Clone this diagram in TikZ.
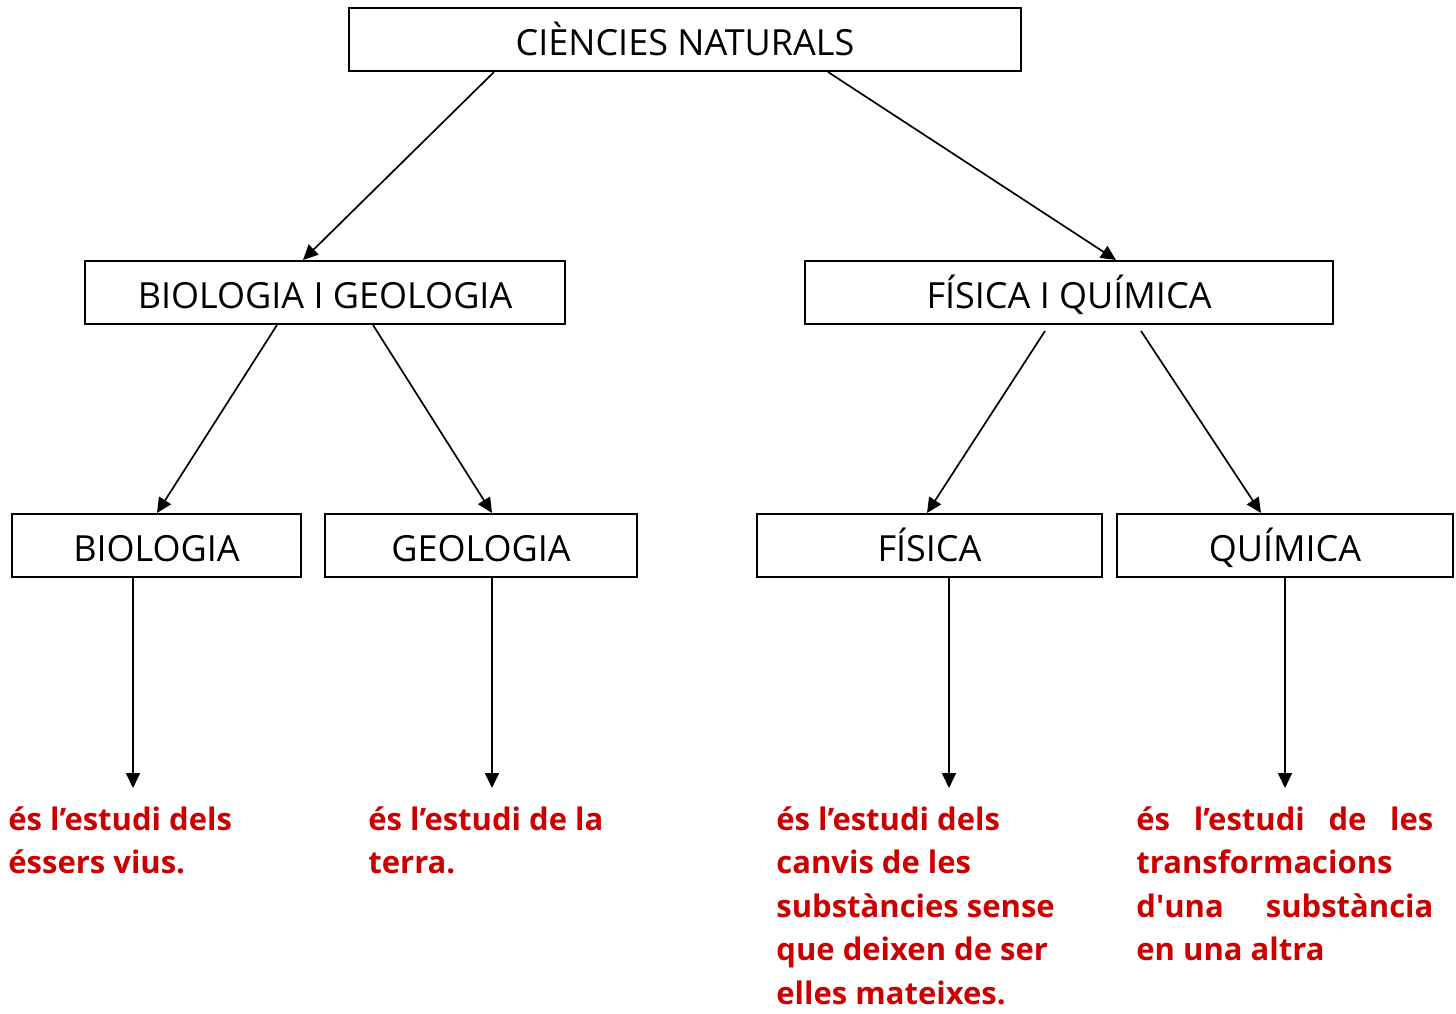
\documentclass[tikz,border=0pt]{standalone}
\usepackage{fontspec}
\setmainfont{Open Sans}
\usetikzlibrary{arrows.meta,calc}
\definecolor{redtxt}{RGB}{204,0,0}
\begin{document}
\begin{tikzpicture}[x=0.5pt,y=-0.5pt,
  box/.style={draw=black,line width=1pt,minimum height=31.5pt,inner sep=0pt,
    text height=15.5pt,text depth=0pt,
    font=\fontsize{18}{21}\selectfont},
  conn/.style={line width=0.85pt,-{Triangle[length=7.5pt,width=7pt]}},
  desc/.style={anchor=north west,inner sep=0pt,text=redtxt,align=left,
    font=\fontsize{15.5}{21.8}\selectfont\bfseries}]
\useasboundingbox (0,0) rectangle (1456,1013);
\node[box,minimum width=336pt] (cn) at (685,39.5) {CIÈNCIES NATURALS};
\node[box,minimum width=240pt] (bg) at (325,292.5) {BIOLOGIA I GEOLOGIA};
\node[box,minimum width=264pt] (fq) at (1069,292.5) {FÍSICA I QUÍMICA};
\node[box,minimum width=144.5pt] (bio) at (156.5,545.5) {BIOLOGIA};
\node[box,minimum width=156pt] (geo) at (481,545.5) {GEOLOGIA};
\node[box,minimum width=172.5pt] (fis) at (929.5,545.5) {FÍSICA};
\node[box,minimum width=168pt] (qui) at (1285,545.5) {QUÍMICA};
\coordinate (e1) at (133,788);
\coordinate (e2) at (492,788);
\coordinate (e3) at (949,788);
\coordinate (e4) at (1285,788);
\draw[conn] ($(cn.south)+(-191,0)$) -- ($(bg.north)+(-22,0)$);
\draw[conn] ($(cn.south)+(143,0)$) -- ($(fq.north)+(47,0)$);
\draw[conn] ($(bg.south)+(-48,0)$) -- ($(bio.north)+(0.5,0)$);
\draw[conn] ($(bg.south)+(48,0)$) -- ($(geo.north)+(11,0)$);
\draw[conn] ($(fq.south)+(-24,6)$) -- ($(fis.north)+(-2.5,0)$);
\draw[conn] ($(fq.south)+(72,6)$) -- ($(qui.north)+(-24,0)$);
\draw[conn] ($(bio.south)+(-23.5,0)$) -- (e1);
\draw[conn] ($(geo.south)+(11,0)$) -- (e2);
\draw[conn] ($(fis.south)+(19.5,0)$) -- (e3);
\draw[conn] (qui.south) -- (e4);
\node[desc] (d1) at (8,806) {és l’estudi dels\\éssers vius.};
\node[desc] (d2) at (368,806) {és l’estudi de la\\terra.};
\node[desc] (d3) at (776,806) {és l’estudi dels\\canvis de les\\substàncies sense\\que deixen de ser\\elles mateixes.};
\node[desc] (d4) at (1136,806) {\makebox[148.5pt][s]{és l’estudi de les}\\transformacions\\\makebox[148.5pt][s]{d\textquotesingle una substància}\\en una altra};
\end{tikzpicture}
\end{document}
